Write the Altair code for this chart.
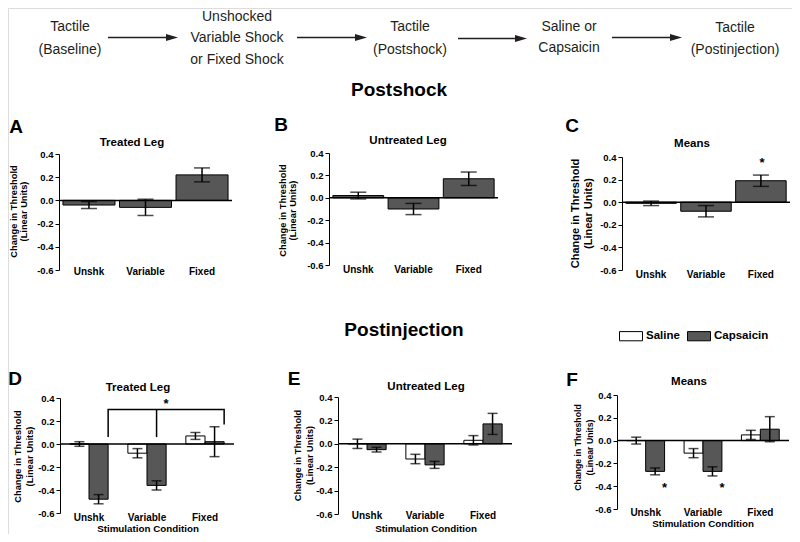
import altair as alt
import pandas as pd

# ---------------- data ----------------
categories = ["Unshk", "Variable", "Fixed"]
treatments = ["Saline", "Capsaicin"]

# Postshock (A-C): mean change and SEM
treated_post_mean = [-0.04, -0.06, 0.22]
treated_post_sem = [0.03, 0.07, 0.06]
untreated_post_mean = [0.02, -0.10, 0.17]
untreated_post_sem = [0.03, 0.05, 0.06]
means_post_mean = [-0.01, -0.08, 0.19]
means_post_sem = [0.02, 0.05, 0.05]

# Postinjection (D-F)
treated_saline_mean = [0.00, -0.08, 0.07]
treated_saline_sem = [0.02, 0.04, 0.03]
treated_caps_mean = [-0.48, -0.36, 0.02]
treated_caps_sem = [0.04, 0.04, 0.13]
untreated_saline_mean = [0.00, -0.13, 0.03]
untreated_saline_sem = [0.04, 0.04, 0.04]
untreated_caps_mean = [-0.05, -0.18, 0.17]
untreated_caps_sem = [0.02, 0.03, 0.09]
means_saline_mean = [0.00, -0.11, 0.05]
means_saline_sem = [0.03, 0.04, 0.04]
means_caps_mean = [-0.27, -0.27, 0.10]
means_caps_sem = [0.03, 0.04, 0.11]

y_ticks = [-0.6, -0.4, -0.2, 0.0, 0.2, 0.4]
y_domain = [-0.6, 0.4]

# significance marks
star_c = [("Fixed", 0.37)]
star_d = [("Variable", "Capsaicin", 0.37)]
star_f = [("Unshk", "Capsaicin", -0.39), ("Variable", "Capsaicin", -0.39)]
bracket_d = [("Unshk", 0.06), ("Unshk", 0.30), ("Fixed", 0.30), ("Fixed", 0.17)]
bracket_mid_d = [("Variable", 0.06, 0.30)]

flow_steps = [
    ["Tactile", "(Baseline)"],
    ["Unshocked", "Variable Shock", "or Fixed Shock"],
    ["Tactile", "(Postshock)"],
    ["Saline or", "Capsaicin"],
    ["Tactile", "(Postinjection)"],
]

# ---------------- layout helpers ----------------
W, H = 784, 526
FONT = "Liberation Sans"
DARK = "#575757"
Y_TITLE = ["Change in Threshold", "(Linear Units)"]
dummy = pd.DataFrame({"d": [0]})


def P(v):
    return v - 8


def txt(s, x, y, size, weight="bold", font=FONT, align="center", color="black"):
    return alt.Chart(dummy).mark_text(
        font=font, fontSize=size, fontWeight=weight, align=align,
        baseline="middle", color=color
    ).encode(x=alt.value(P(x)), y=alt.value(P(y)), text=alt.value(s))


def y_axis(c):
    return alt.Axis(
        orient="left", offset=-P(c["ax"]), values=y_ticks, grid=False,
        labelExpr="replace(datum.label, '\u2212', '-')", format=".1f",
        domainColor="black", domainWidth=1, tickColor="black", tickSize=4, tickWidth=1,
        labelFont=FONT, labelFontSize=9.5, labelFontWeight="bold", labelColor="black",
        labelPadding=2, title=Y_TITLE, titleFont=FONT, titleFontSize=c["tfs"],
        titleFontWeight="bold", titleColor="black", titleAngle=270,
        titleAlign="center", titleBaseline="middle", titleLineHeight=c["tlh"],
        titleX=c["tx"], titleY=P(c["ty"]), zindex=1,
    )


def x_axis(c):
    return alt.Axis(
        orient="bottom", offset=P(c["ly"]) - H, domain=False, ticks=False, tickSize=0,
        labelPadding=0, labelBaseline="middle", labelAngle=0, labelFont=FONT,
        labelFontSize=10, labelFontWeight="bold", labelColor="black", title=None,
        grid=False,
    )


def scales(c, pin, pout):
    xs = alt.Scale(domain=categories, range=[P(c["ax"]), P(c["x1"])],
                   paddingInner=pin, paddingOuter=pout)
    ys = alt.Scale(domain=y_domain, range=[P(c["yb"]), P(c["yt"])], nice=False, zero=False)
    return xs, ys


def zero_line(c, ys):
    return alt.Chart(dummy).mark_rule(color="black", strokeWidth=1.5).encode(
        y=alt.YDatum(0, scale=ys, axis=None),
        x=alt.value(P(c["ax"])), x2=alt.value(P(c["x1"])),
    )


def single_panel(c, mean, sem, stars=None):
    df = pd.DataFrame({"cond": categories, "mean": mean,
                       "lo": [m - s for m, s in zip(mean, sem)],
                       "hi": [m + s for m, s in zip(mean, sem)]})
    xs, ys = scales(c, 0.08, 0.07)
    base = alt.Chart(df)
    xe = alt.X("cond:N", scale=xs, sort=categories, axis=None)
    bars = base.mark_bar(fill=DARK, stroke="black", strokeWidth=1).encode(
        x=alt.X("cond:N", scale=xs, sort=categories, axis=x_axis(c)),
        y=alt.Y("mean:Q", scale=ys, axis=y_axis(c)),
    )
    err = base.mark_rule(color="black", strokeWidth=1.5).encode(
        x=xe, y=alt.Y("lo:Q", scale=ys, axis=None), y2="hi:Q")
    cap_lo = base.mark_tick(color="black", thickness=1.5, size=16).encode(
        x=xe, y=alt.Y("lo:Q", scale=ys, axis=None))
    cap_hi = base.mark_tick(color="black", thickness=1.5, size=16).encode(
        x=xe, y=alt.Y("hi:Q", scale=ys, axis=None))
    layers = [bars, zero_line(c, ys), err, cap_lo, cap_hi]
    if stars:
        sdf = pd.DataFrame({"cond": [s[0] for s in stars], "y": [s[1] for s in stars]})
        layers.append(alt.Chart(sdf).mark_text(text="*", font=FONT, fontSize=13,
                                               fontWeight="bold", dy=3, color="black").encode(
            x=xe, y=alt.Y("y:Q", scale=ys, axis=None)))
    return layers


legend = alt.Legend(
    orient="none", legendX=P(619), legendY=P(324), direction="horizontal", title=None,
    symbolType="M-1,-0.4H1V0.4H-1Z", symbolSize=529, symbolStrokeColor="black",
    symbolStrokeWidth=1, symbolOpacity=1, labelFont=FONT, labelFontSize=11.5,
    labelFontWeight="bold", labelColor="black", labelOffset=3, columnPadding=5, padding=0,
)


def group_panel(c, sal_mean, sal_sem, cap_mean, cap_sem, stars=None, bracket=None, mid=None):
    rows = []
    for trt, mean, sem in (("Saline", sal_mean, sal_sem), ("Capsaicin", cap_mean, cap_sem)):
        for cond, m, s in zip(categories, mean, sem):
            rows.append({"cond": cond, "trt": trt, "mean": m, "lo": m - s, "hi": m + s})
    df = pd.DataFrame(rows)
    xs, ys = scales(c, 0.34, 0.17)
    xos = alt.Scale(domain=treatments, paddingInner=0, paddingOuter=0)
    xo = alt.XOffset("trt:N", scale=xos, sort=treatments)
    xe = alt.X("cond:N", scale=xs, sort=categories, axis=None)
    base = alt.Chart(df)
    bars = base.mark_bar(stroke="black", strokeWidth=1).encode(
        x=alt.X("cond:N", scale=xs, sort=categories, axis=x_axis(c)),
        xOffset=xo,
        y=alt.Y("mean:Q", scale=ys, axis=y_axis(c)),
        fill=alt.Fill("trt:N", scale=alt.Scale(domain=treatments, range=["white", DARK]),
                      sort=treatments, legend=legend),
    )
    err = base.mark_rule(color="black", strokeWidth=1.5).encode(
        x=xe, xOffset=xo, y=alt.Y("lo:Q", scale=ys, axis=None), y2="hi:Q")
    cap_lo = base.mark_tick(color="black", thickness=1.5, size=10).encode(
        x=xe, xOffset=xo, y=alt.Y("lo:Q", scale=ys, axis=None))
    cap_hi = base.mark_tick(color="black", thickness=1.5, size=10).encode(
        x=xe, xOffset=xo, y=alt.Y("hi:Q", scale=ys, axis=None))
    layers = [bars, zero_line(c, ys), err, cap_lo, cap_hi]
    if stars:
        sdf = pd.DataFrame({"cond": [s[0] for s in stars], "trt": [s[1] for s in stars],
                            "y": [s[2] for s in stars]})
        layers.append(alt.Chart(sdf).mark_text(text="*", font=FONT, fontSize=13,
                                               fontWeight="bold", dy=3, color="black").encode(
            x=xe, xOffset=xo, y=alt.Y("y:Q", scale=ys, axis=None)))
    if bracket:
        bdf = pd.DataFrame({"cond": [b[0] for b in bracket], "y": [b[1] for b in bracket],
                            "trt": ["Capsaicin"] * len(bracket),
                            "i": list(range(len(bracket)))})
        layers.append(alt.Chart(bdf).mark_line(color="black", strokeWidth=1.5).encode(
            x=xe, xOffset=xo, y=alt.Y("y:Q", scale=ys, axis=None), order="i:Q"))
    if mid:
        mdf = pd.DataFrame({"cond": [m[0] for m in mid], "lo": [m[1] for m in mid],
                            "hi": [m[2] for m in mid], "trt": ["Capsaicin"] * len(mid)})
        layers.append(alt.Chart(mdf).mark_rule(color="black", strokeWidth=1.5).encode(
            x=xe, xOffset=xo, y=alt.Y("lo:Q", scale=ys, axis=None), y2="hi:Q"))
    return layers


# panel geometry (page pixels); tx = position of first title line relative to axis
cA = dict(ax=59, x1=232, yt=154, yb=270, ly=271, tx=-46, ty=211, tfs=9.3, tlh=10)
cB = dict(ax=329, x1=498, yt=153, yb=265, ly=269, tx=-47, ty=210, tfs=9.3, tlh=10)
cC = dict(ax=622, x1=790, yt=157, yb=270, ly=274, tx=-47, ty=213, tfs=11, tlh=13)
cD = dict(ax=60, x1=234, yt=398, yb=513, ly=517, tx=-43, ty=456, tfs=9.3, tlh=12.5)
cE = dict(ax=338, x1=512, yt=397, yb=514, ly=515, tx=-41, ty=455, tfs=9.2, tlh=12.5)
cF = dict(ax=617, x1=789, yt=395, yb=509, ly=512, tx=-40, ty=447, tfs=8.7, tlh=12.5)

layers = []
layers += single_panel(cA, treated_post_mean, treated_post_sem)
layers += single_panel(cB, untreated_post_mean, untreated_post_sem)
layers += single_panel(cC, means_post_mean, means_post_sem, stars=star_c)
layers += group_panel(cD, treated_saline_mean, treated_saline_sem, treated_caps_mean,
                      treated_caps_sem, stars=star_d, bracket=bracket_d, mid=bracket_mid_d)
layers += group_panel(cE, untreated_saline_mean, untreated_saline_sem, untreated_caps_mean,
                      untreated_caps_sem)
layers += group_panel(cF, means_saline_mean, means_saline_sem, means_caps_mean,
                      means_caps_sem, stars=star_f)

# panel titles, letters, x titles
for s, x, y in (("Treated Leg", 132, 143), ("Untreated Leg", 408, 141), ("Means", 692, 144),
                ("Treated Leg", 138, 388), ("Untreated Leg", 426, 387), ("Means", 689, 382)):
    layers.append(txt(s, x, y, 11.5))
for s, x, y in (("A", 16, 127), ("B", 281, 125), ("C", 572, 126),
                ("D", 15, 379), ("E", 294, 379), ("F", 572, 380)):
    layers.append(txt(s, x, y, 19))
for x, y in ((148, 529), (426, 529), (703, 524)):
    layers.append(txt("Stimulation Condition", x, y, 9.8))

layers.append(txt("Postshock", 399, 90, 19))
layers.append(txt("Postinjection", 404, 330, 19))

# flow diagram
flow_pos = [(70, [27, 50]), (237, [17, 38, 60]), (410, [27, 50]), (569, [27, 48]), (735, [28, 50])]
for lines, (x, ys_) in zip(flow_steps, flow_pos):
    for line, y in zip(lines, ys_):
        layers.append(txt(line, x, y, 14, weight="normal", font=FONT, color="#231f20"))
for x0, x1, y in ((108, 178, 37.5), (297, 367, 37.5), (458, 527, 38.5), (612, 682, 37.5)):
    layers.append(alt.Chart(dummy).mark_rule(color="#231f20", strokeWidth=1.6).encode(
        x=alt.value(P(x0)), x2=alt.value(P(x1 - 8)), y=alt.value(P(y))))
    layers.append(alt.Chart(dummy).mark_point(
        shape="M-1,-0.6L1,0L-1,0.6Z", filled=True, size=144, color="#231f20", opacity=1
    ).encode(x=alt.value(P(x1 - 6)), y=alt.value(P(y))))

chart = alt.layer(*layers).properties(
    width=W, height=H, autosize=alt.AutoSizeParams(type="none"), padding=0
).resolve_scale(
    x="independent", y="independent", xOffset="independent"
).resolve_axis(
    x="independent", y="independent"
).configure_view(stroke=None).configure(background="white")

chart.save("out.html", embed_options={"renderer": "svg", "actions": False})
